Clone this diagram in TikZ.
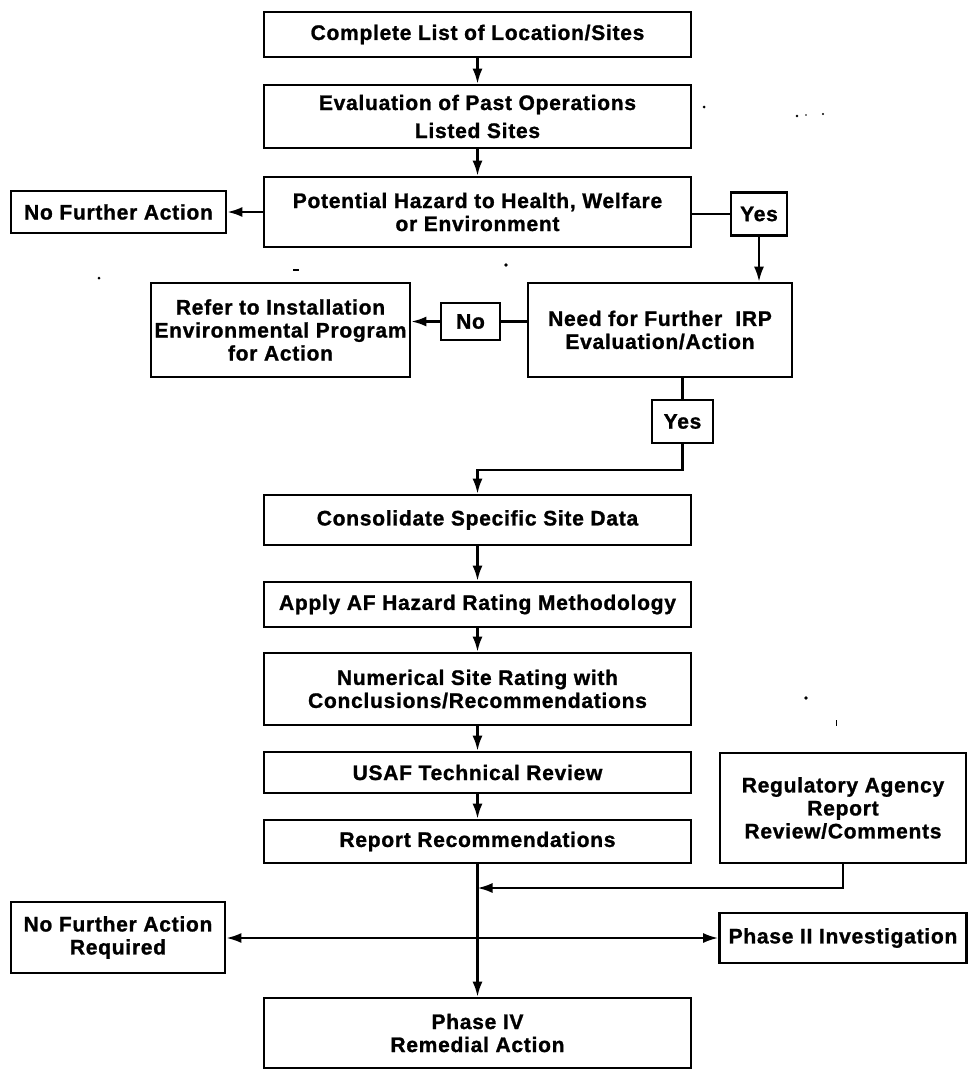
\documentclass[tikz,border=0pt]{standalone}
\usepackage{fontspec}
\usetikzlibrary{arrows.meta}
\newfontfamily\lab{Liberation Sans}[LetterSpace=3.5,FakeBold=1.2]
\tikzset{
  box/.style={draw, line width=2.7pt, inner sep=0pt, align=center,
    font=\lab\bfseries\fontsize{21pt}{23pt}\selectfont},
  conn/.style={line width=2.2pt},
  arr/.style={conn, -{Latex[length=15pt,width=10pt]}},
  speck/.style={fill=black}
}
\begin{document}
\begin{tikzpicture}[x=1pt,y=-1pt]
\useasboundingbox (0,0) rectangle (968,1071);
% main column
\node[box, minimum width=427pt, minimum height=45pt] (b1) at (477.5,34.5) {Complete List of Location/Sites};
\node[box, minimum width=427pt, minimum height=63pt] (b2) at (477.5,116.5) {Evaluation of Past Operations\\[5pt]Listed Sites};
\node[box, minimum width=427pt, minimum height=70pt] (b3) at (477.5,212) {Potential Hazard to Health, Welfare\\or Environment};
\node[box, minimum width=215pt, minimum height=42pt] (nfa) at (118.5,212) {No Further Action};
\node[box, minimum width=56pt, minimum height=43pt] (yes1) at (759,214) {Yes};
\node[box, minimum width=259pt, minimum height=94pt] (refer) at (280.5,330) {Refer to Installation\\Environmental Program\\for Action};
\node[box, minimum width=59pt, minimum height=37pt] (no) at (470.5,321.5) {No};
\node[box, minimum width=264pt, minimum height=94pt] (need) at (660,330) {Need for Further\ \ IRP\\Evaluation/Action};
\node[box, minimum width=61pt, minimum height=43pt] (yes2) at (682.5,421.5) {Yes};
\node[box, minimum width=427pt, minimum height=50pt] (cons) at (477.5,520) {Consolidate Specific Site Data};
\node[box, minimum width=427pt, minimum height=45pt] (apply) at (477.5,604.5) {Apply AF Hazard Rating Methodology};
\node[box, minimum width=427pt, minimum height=72pt] (num) at (477.5,689) {Numerical Site Rating with\\Conclusions/Recommendations};
\node[box, minimum width=427pt, minimum height=41pt] (usaf) at (477.5,772.5) {USAF Technical Review};
\node[box, minimum width=427pt, minimum height=43pt] (rep) at (477.5,841.5) {Report Recommendations};
\node[box, minimum width=246pt, minimum height=110pt] (reg) at (843,808) {Regulatory Agency\\Report\\Review/Comments};
\node[box, minimum width=214pt, minimum height=71pt] (nfa2) at (118,937.5) {No Further Action\\Required};
\node[box, minimum width=247pt, minimum height=50pt] (p2) at (843,938) {Phase II Investigation};
\node[box, minimum width=427pt, minimum height=70pt] (p4) at (477.5,1033) {Phase IV\\Remedial Action};
% connectors
\draw[arr] (b1.south) -- (b2.north);
\draw[arr] (b2.south) -- (b3.north);
\draw[arr] (b3.west) -- (b3.west -| nfa.east);
\draw[conn] (b3.east |- yes1.west) -- (yes1.west);
\draw[arr] (yes1.south) -- (yes1.south |- need.north);
\draw[conn] (need.west |- no.east) -- (no.east);
\draw[arr] (no.west) -- (no.west -| refer.east);
\draw[conn] (yes2.north |- need.south) -- (yes2.north);
\coordinate (bend) at (682.5,470);
\draw[arr] (yes2.south) -- (bend) -| (cons.north);
\draw[arr] (cons.south) -- (apply.north);
\draw[arr] (apply.south) -- (num.north);
\draw[arr] (num.south) -- (usaf.north);
\draw[arr] (usaf.south) -- (rep.north);
\coordinate (j1) at (477.5,888);
\draw[arr] (reg.south) |- (j1);
\draw[arr] (rep.south) -- (p4.north);
\coordinate (j2) at (477.5,938);
\draw[arr] (j2) -- (j2 -| nfa2.east);
\draw[arr] (j2) -- (j2 -| p2.west);
% scanner specks
\fill[speck] (704,107) circle (1.5pt);
\fill[speck] (797,116) circle (1.3pt);
\fill[speck] (806,115) circle (0.9pt);
\fill[speck] (823,114) circle (1.1pt);
\fill[speck] (99,278) circle (1.5pt);
\fill[speck] (293,268.5) rectangle (299,271);
\fill[speck] (506,265) circle (1.8pt);
\fill[speck] (806,698) circle (1.8pt);
\fill[speck] (835.5,720) rectangle (837,726);
\end{tikzpicture}
\end{document}
